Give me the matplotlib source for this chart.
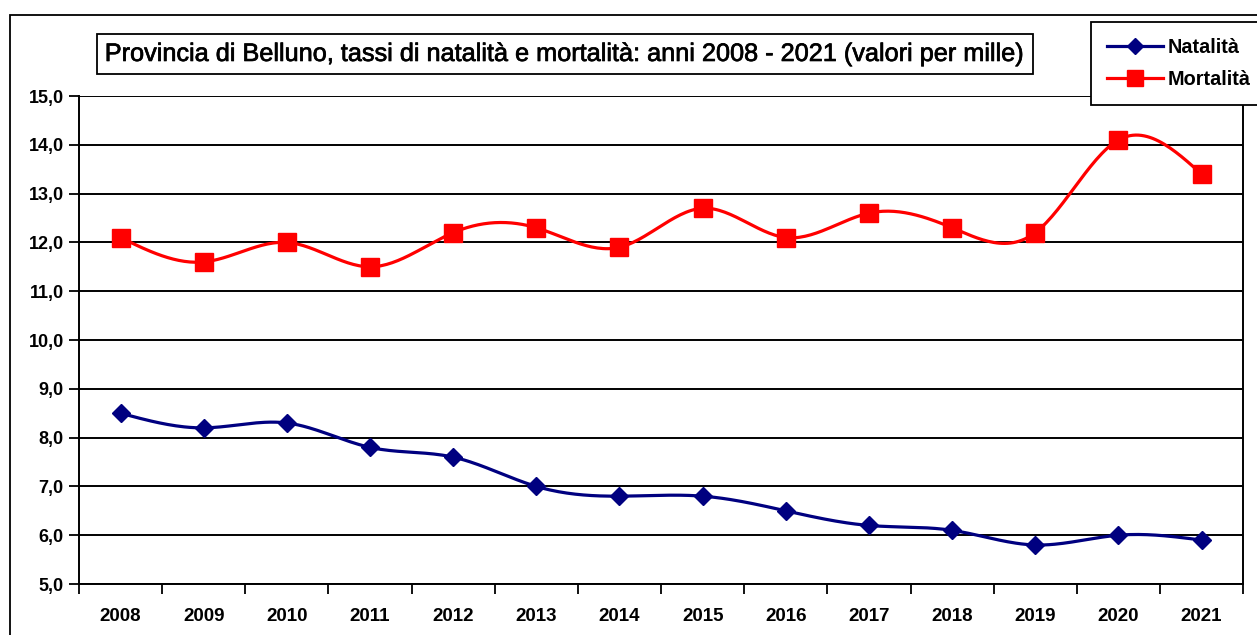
import numpy as np
import matplotlib
matplotlib.use("Agg")
import matplotlib.pyplot as plt
from matplotlib.patches import Rectangle
import matplotlib.patheffects as pe

anni = ["2008", "2009", "2010", "2011", "2012", "2013", "2014",
        "2015", "2016", "2017", "2018", "2019", "2020", "2021"]
natalita = [8.5, 8.2, 8.3, 7.8, 7.6, 7.0, 6.8, 6.8, 6.5, 6.2, 6.1, 5.8, 6.0, 5.9]
mortalita = [12.1, 11.6, 12.0, 11.5, 12.2, 12.3, 11.9, 12.7, 12.1, 12.6, 12.3, 12.2, 14.1, 13.4]
titolo = "Provincia di Belluno, tassi di natalità e mortalità: anni 2008 - 2021 (valori per mille)"

plt.rcParams['font.family'] = ['Liberation Sans', 'DejaVu Sans']


def spline(x, y, n=30):
    # natural cubic spline, just for the smooth look of the lines
    x = np.asarray(x, float)
    y = np.asarray(y, float)
    k = len(x)
    h = np.diff(x)
    A = np.zeros((k, k))
    b = np.zeros(k)
    A[0, 0] = A[-1, -1] = 1
    for i in range(1, k - 1):
        A[i, i - 1] = h[i - 1]
        A[i, i] = 2 * (h[i - 1] + h[i])
        A[i, i + 1] = h[i]
        b[i] = 6 * ((y[i + 1] - y[i]) / h[i] - (y[i] - y[i - 1]) / h[i - 1])
    M = np.linalg.solve(A, b)
    xs, ys = [], []
    for i in range(k - 1):
        t = np.linspace(x[i], x[i + 1], n, endpoint=(i == k - 2))
        a = (x[i + 1] - t) / h[i]
        c = (t - x[i]) / h[i]
        s = (a * y[i] + c * y[i + 1]
             + ((a ** 3 - a) * M[i] + (c ** 3 - c) * M[i + 1]) * h[i] ** 2 / 6)
        xs.append(t)
        ys.append(s)
    return np.concatenate(xs), np.concatenate(ys)


fig = plt.figure(figsize=(12.57, 6.35), dpi=100)
ax = fig.add_axes([0.0628, 0.0803, 0.9262, 0.7685])

x = np.arange(len(anni))
blu = "#000080"
rosso = "#ff0000"

sx, sy = spline(x, natalita)
ax.plot(sx, sy, color=blu, lw=2.3, zorder=3)
ax.plot(x, natalita, 'D', color=blu, ms=9, zorder=4)
sx, sy = spline(x, mortalita)
ax.plot(sx, sy, color=rosso, lw=2.3, zorder=3)
ax.plot(x, mortalita, 's', color=rosso, ms=12.5, zorder=4)

ax.set_xlim(-0.5, len(anni) - 0.5)
ax.set_ylim(5, 15)
ax.set_yticks(np.arange(5, 15.1, 1))
ax.set_yticklabels([("%.1f" % v).replace(".", ",") for v in np.arange(5, 15.1, 1)],
                   fontsize=13, fontweight='bold')
ax.set_xticks(np.arange(-0.5, len(anni), 1))
ax.set_xticklabels([])
ax.set_xticks(x, minor=True)
ax.set_xticklabels(anni, minor=True, fontsize=13.5, fontweight='bold')
ax.tick_params(axis='x', which='minor', length=0, pad=17)
ax.tick_params(axis='x', which='major', length=7, width=1.3)
ax.tick_params(axis='y', length=7, width=1.3, pad=4)
ax.grid(axis='y', color='black', lw=1.4)
for s in ['top']:
    ax.spines[s].set_visible(False)
for s in ['left', 'bottom', 'right']:
    ax.spines[s].set_linewidth(1.4)

# frame around the whole chart
fig.patches.append(Rectangle((10 / 1257, -0.1), 1.2, 0.1 + 1 - 15 / 635,
                             transform=fig.transFigure, fill=False,
                             edgecolor='black', lw=1.3, zorder=0))

t = fig.text(0.4495, 0.915, titolo, ha='center', va='center', fontsize=18.2,
             bbox=dict(boxstyle='square,pad=0.3', facecolor='white', edgecolor='black', lw=1.3))
t.set_path_effects([pe.withStroke(linewidth=0.5, foreground='black')])

leg = ax.legend([plt.Line2D([], [], color=blu, lw=2.3, marker='D', ms=8),
                 plt.Line2D([], [], color=rosso, lw=2.3, marker='s', ms=11)],
                ["Natalità", "Mortalità"], loc='upper left',
                bbox_to_anchor=(1091 / 1257, 1 - 22 / 635), bbox_transform=fig.transFigure,
                prop=dict(weight='bold', size=14.3), fancybox=False, framealpha=1,
                edgecolor='black', handlelength=2.8, handletextpad=0.25,
                labelspacing=0.65, borderpad=0.8, borderaxespad=0)
leg.get_frame().set_linewidth(1.3)

fig.savefig("out.png", dpi=100)
